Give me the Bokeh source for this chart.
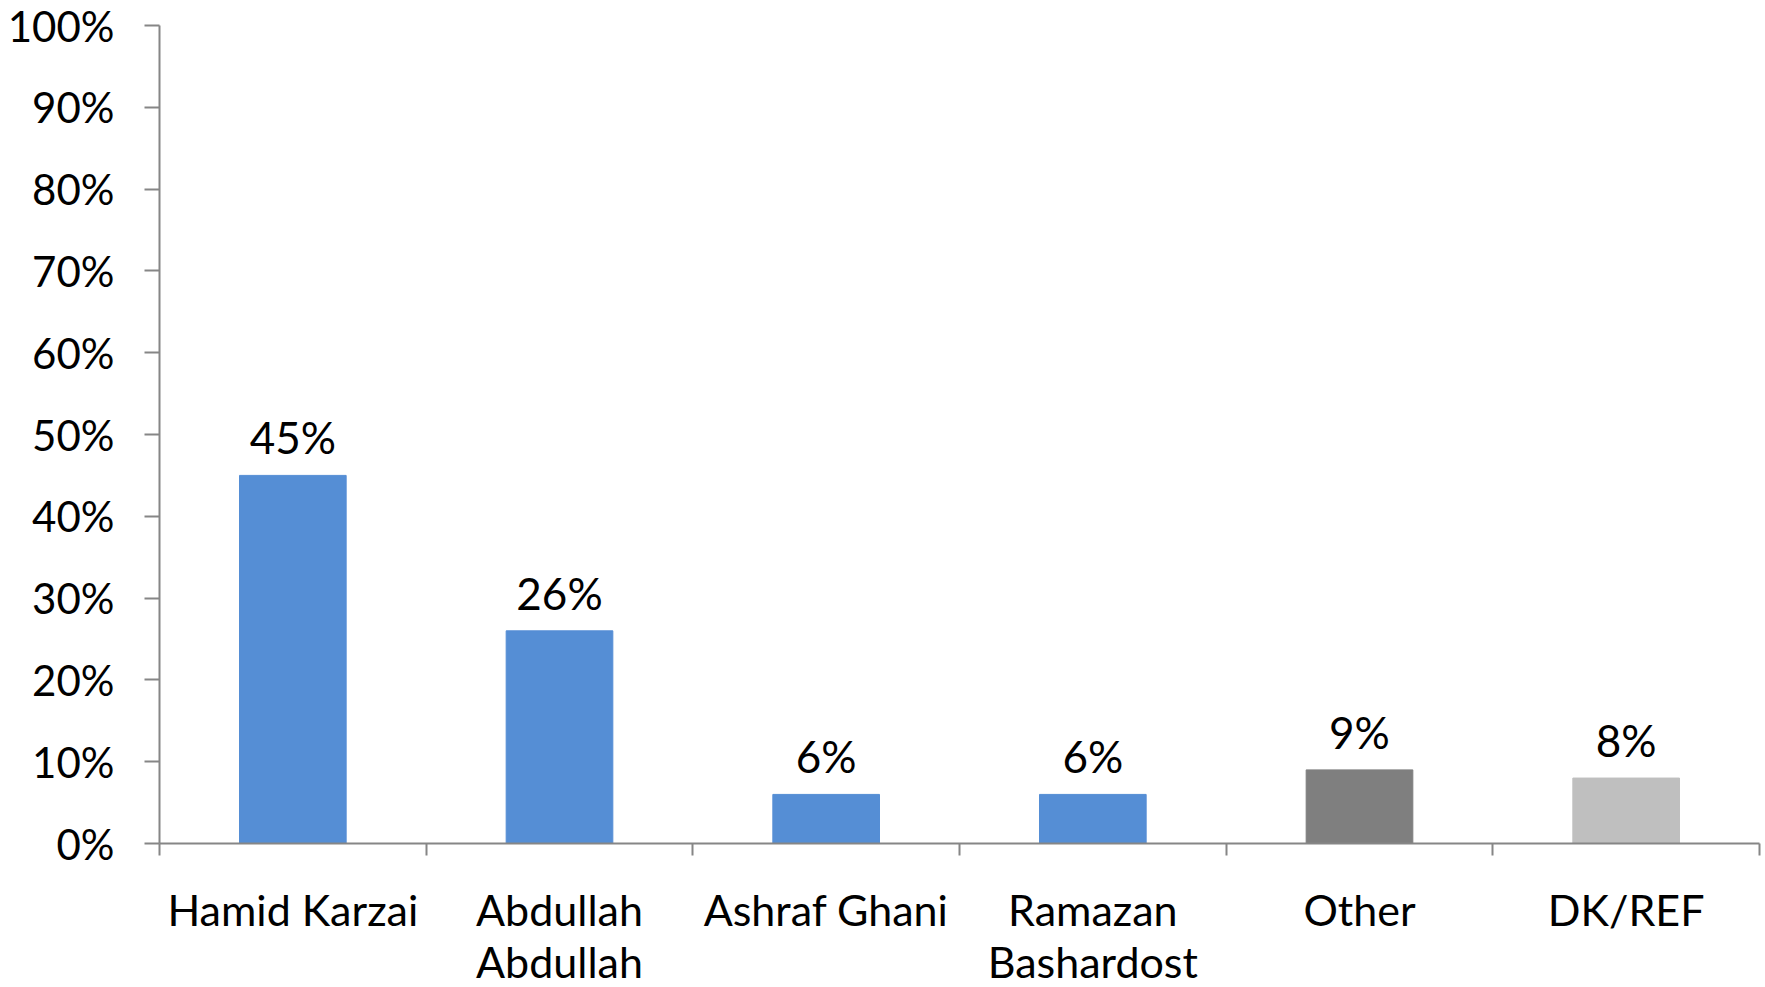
from bokeh.plotting import figure
from bokeh.layouts import column
from bokeh.models import ColumnDataSource, FixedTicker, PrintfTickFormatter, LabelSet, Range1d
from bokeh.core.properties import value
from bokeh.embed import file_html
from bokeh.resources import INLINE

# Candidate support
candidates = ["Hamid Karzai", "Abdullah\nAbdullah", "Ashraf Ghani", "Ramazan\nBashardost", "Other", "DK/REF"]
shares = [45, 26, 6, 6, 9, 8]
share_labels = ["45%", "26%", "6%", "6%", "9%", "8%"]
bar_colors = ["#558ED5", "#558ED5", "#558ED5", "#558ED5", "#7F7F7F", "#BFBFBF"]
y_ticks = [0, 10, 20, 30, 40, 50, 60, 70, 80, 90, 100]

FONT = "Lato"
AXIS_GRAY = "#868686"
WIDTH = 1765
CHART_H = 873
NAMES_H = 987 - CHART_H

positions = [i + 0.5 for i in range(len(candidates))]
source = ColumnDataSource(dict(x=positions, top=shares, label=share_labels, color=bar_colors,
                               name=candidates, anchor=[1] * len(candidates)))

x_range = Range1d(0, len(candidates))

# --- bar chart ---
p = figure(width=WIDTH, height=CHART_H, output_backend="svg", toolbar_location=None,
           x_range=x_range, y_range=Range1d(0, 100),
           min_border_left=159, min_border_right=6, min_border_top=25, min_border_bottom=30)
p.outline_line_color = None
p.xgrid.visible = False
p.ygrid.visible = False

p.vbar(x="x", top="top", width=0.4, bottom=0, color="color", source=source)

labels = LabelSet(x="x", y="top", text="label", source=source, text_align="center",
                  text_baseline="alphabetic", y_offset=21, text_font=value(FONT),
                  text_font_size=value("44px"), text_color="black")
p.add_layout(labels)

ya = p.yaxis[0]
ya.ticker = FixedTicker(ticks=y_ticks)
ya.formatter = PrintfTickFormatter(format="%d%%")
ya.axis_line_color = AXIS_GRAY
ya.axis_line_width = 2
ya.major_tick_line_color = AXIS_GRAY
ya.major_tick_line_width = 2
ya.major_tick_in = 0
ya.major_tick_out = 15
ya.minor_tick_line_color = None
ya.major_label_standoff = 30
ya.major_label_text_font = FONT
ya.major_label_text_font_size = "42px"
ya.major_label_text_color = "black"

# x axis carries only the boundary ticks between categories
xa = p.xaxis[0]
xa.ticker = FixedTicker(ticks=[], minor_ticks=list(range(len(candidates) + 1)))
xa.axis_line_color = AXIS_GRAY
xa.axis_line_width = 2
xa.minor_tick_line_color = AXIS_GRAY
xa.minor_tick_line_width = 2
xa.minor_tick_in = 0
xa.minor_tick_out = 12
xa.major_label_standoff = 0

# --- category names strip, sharing the x range ---
names = figure(width=WIDTH, height=NAMES_H, output_backend="svg", toolbar_location=None,
               x_range=x_range, y_range=Range1d(0, 1),
               x_axis_location=None, y_axis_location=None,
               min_border_left=159, min_border_right=6, min_border_top=0, min_border_bottom=0)
names.outline_line_color = None
names.xgrid.visible = False
names.ygrid.visible = False
names.text(x="x", y="anchor", text="name", source=source, text_align="center",
           text_baseline="top", y_offset=10, text_font=value(FONT),
           text_font_size=value("43px"), text_color="black", text_line_height=1.02)

layout = column(p, names, spacing=0)
open("out.html", "w").write(file_html(layout, INLINE))
